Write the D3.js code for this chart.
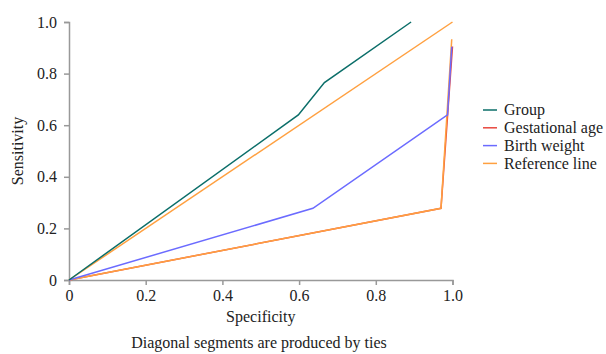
<!DOCTYPE html>
<html>
<head>
<meta charset="utf-8">
<script src="https://cdn.jsdelivr.net/npm/d3@7"></script>
<style>
body{margin:0;background:#fff;}
</style>
</head>
<body>
<div id="chart"></div>
<script>
// ROC curves, [specificity, sensitivity]
var groupPts = [[0,0],[0.598,0.64],[0.666,0.765],[0.892,1.0]]
var gestPts = [[0,0],[0.97,0.278],[1.0,0.905]]
var birthPts = [[0,0],[0.636,0.278],[0.987,0.64],[0.998,0.904]]
var refPts = [[0,0],[1,1]]
var refLowPts = [[0,0],[0.97,0.278],[0.998,0.933]]

var tickVals = [0,0.2,0.4,0.6,0.8,1.0]
var tickLabels = ["0","0.2","0.4","0.6","0.8","1.0"]
var legendNames = ["Group","Gestational age","Birth weight","Reference line"]
var colors = ["#0b6e69","#e8483f","#6b6bff","#ffa040"]

var serif = "'Liberation Serif', 'Times New Roman', 'DejaVu Serif', serif"
var width = 606, height = 354
var x0 = 69, x1 = 452.5, y0 = 280, y1 = 22

var xScale = d3.scaleLinear().domain([0,1]).range([x0,x1])
var yScale = d3.scaleLinear().domain([0,1]).range([y0,y1])

var svg = d3.select("#chart").append("svg")
	.attr("width",width)
	.attr("height",height)

var fmt = function(d){ return tickLabels[tickVals.indexOf(d)] }

var xAxis = svg.append("g")
	.attr("transform","translate(0,"+y0+")")
	.call(d3.axisBottom(xScale).tickValues(tickVals).tickFormat(fmt).tickSizeInner(5).tickSizeOuter(5))
var yAxis = svg.append("g")
	.attr("transform","translate("+x0+",0)")
	.call(d3.axisLeft(yScale).tickValues(tickVals).tickFormat(fmt).tickSizeInner(5).tickSizeOuter(5))

svg.selectAll(".domain").attr("stroke","#999").attr("stroke-width",1.5)
svg.selectAll(".tick line").attr("stroke","#999").attr("stroke-width",1.5)
svg.selectAll(".tick text")
	.style("font-family",serif)
	.style("font-size","16px")
	.attr("fill","#222")
xAxis.selectAll(".tick text").attr("dy","0.95em").attr("y",6)
yAxis.selectAll(".tick text").attr("x",-12)

var line = d3.line()
	.x(function(d){return xScale(d[0])})
	.y(function(d){return yScale(d[1])})

var series = [
	{pts:gestPts,c:colors[1]},
	{pts:refPts,c:colors[3]},
	{pts:refLowPts,c:colors[3]},
	{pts:birthPts,c:colors[2]},
	{pts:groupPts,c:colors[0]}
]
svg.selectAll("path.curve")
	.data(series).enter()
	.append("path")
	.attr("class","curve")
	.attr("d",function(d){return line(d.pts)})
	.attr("fill","none")
	.attr("stroke",function(d){return d.c})
	.attr("stroke-width",1.5)

var labels = svg.append("g")
	.attr("font-family",serif)
	.attr("font-size",16)
	.attr("fill","#222")

// axis titles
labels.append("text")
	.attr("x",(x0+x1)/2).attr("y",322)
	.attr("text-anchor","middle")
	.text("Specificity")
labels.append("text")
	.attr("transform","translate(23,151) rotate(-90)")
	.attr("text-anchor","middle")
	.text("Sensitivity")
labels.append("text")
	.attr("x",259).attr("y",348)
	.attr("text-anchor","middle")
	.text("Diagonal segments are produced by ties")

// legend
var leg = labels.selectAll("g.leg")
	.data(legendNames).enter()
	.append("g")
	.attr("class","leg")
	.attr("transform",function(d,i){return "translate(483,"+(110+i*17.8)+")"})
leg.append("line")
	.attr("x1",0).attr("x2",14)
	.attr("stroke",function(d,i){return colors[i]})
	.attr("stroke-width",1.5)
leg.append("text")
	.attr("x",21).attr("dy","0.33em")
	.text(function(d){return d})
</script>
</body>
</html>
